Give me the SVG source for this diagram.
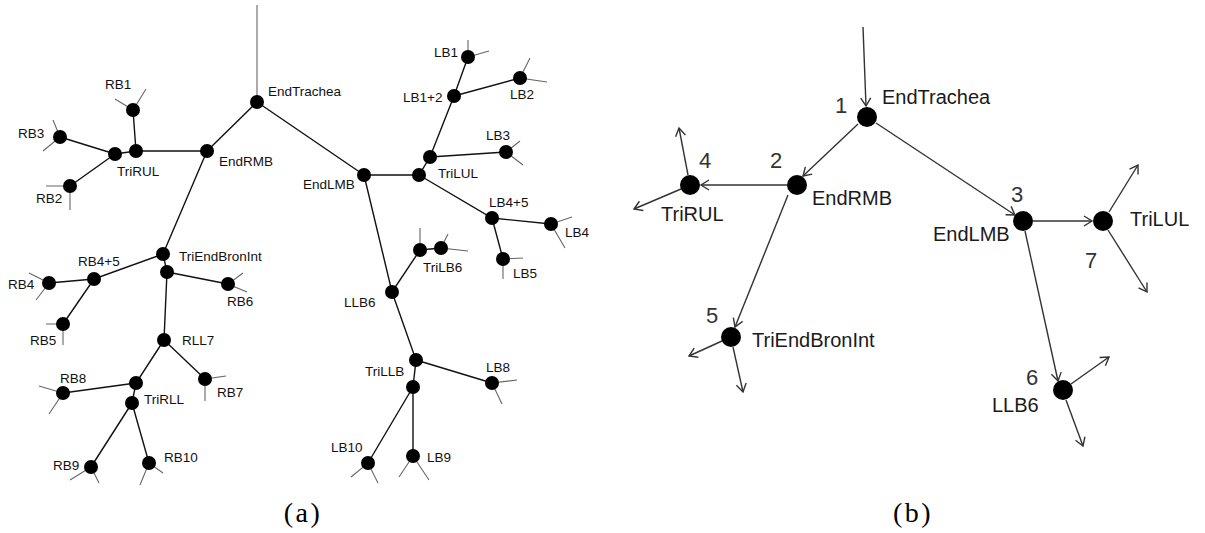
<svg xmlns="http://www.w3.org/2000/svg" width="1205" height="533" viewBox="0 0 1205 533">
<style>
.e{stroke:#111;stroke-width:1.4;fill:none}
.t{stroke:#666;stroke-width:1.1;fill:none}
.n{fill:#000}
.la{font-family:"Liberation Sans",Arial,sans-serif;font-size:13.5px;fill:#111}
.lb{font-family:"Liberation Sans",Arial,sans-serif;font-size:20px;fill:#1a1a1a}
.num{font-family:"Liberation Sans",Arial,sans-serif;font-size:22px;fill:#333}
.a{stroke:#333;stroke-width:1.4;fill:none;marker-end:url(#ah)}
.cap{font-family:"Liberation Serif","Times New Roman",serif;font-size:28px;fill:#000;letter-spacing:2.5px}
</style>
<defs>
<marker id="ah" markerUnits="userSpaceOnUse" markerWidth="20" markerHeight="20" viewBox="-10 -10 20 20" refX="0" refY="0" orient="auto">
<path d="M-8,-5 L0,0 L-8,5" stroke="#333" stroke-width="1.4" fill="none"/>
</marker>
</defs>
<rect width="1205" height="533" fill="#fff"/>

<!-- Panel (a) connectors -->
<g id="connectors-a">
<line class="t" x1="257" y1="5" x2="257" y2="102"/>
<path class="e" d="M257,102 L207,151 M257,102 L364,175 M207,151 L136,151 L115,154 M136,151 L133,110 M115,154 L60,137 M115,154 L70,186 M207,151 L163,254 L167,272 M163,254 L94,279 L49,283 M94,279 L63,324 M167,272 L228,284 M167,272 L164,340 L205,379 M164,340 L136,383 L132,403 M136,383 L63,393 M132,403 L91,467 M132,403 L149,463 M364,175 L419,175 L430,157 L454,96 L468,57 M454,96 L520,78 M430,157 L506,152 M419,175 L492,218 L551,224 M492,218 L503,259 M364,175 L392,292 L420,250 L441,248 M392,292 L416,360 L413,387 M416,360 L492,383 M413,387 L368,463 M413,387 L413,456"/>
<path class="t" d="M115,99 L133,110 L146,89 M53,120 L60,137 L43,151 M46,186 L70,186 L70,210 M29,273 L49,283 L36,300 M46,324 L63,324 L63,345 M243,273 L228,284 L247,292 M226,376 L205,379 L205,401 M39,386 L63,393 L49,414 M70,480 L91,467 L99,483 M163,473 L149,463 L140,485 M468,40 L468,57 L489,51 M530,58 L520,78 L547,82 M520,141 L506,152 L523,165 M572,217 L551,224 L565,248 M523,258 L503,259 L503,279 M420,228 L420,250 M448,234 L441,248 L468,251 M517,380 L492,383 L502,404 M351,477 L368,463 L378,483 M399,477 L413,456 L429,480"/>
</g>

<!-- Panel (a) nodes -->
<g id="EndTrachea-a"><circle class="n" cx="257" cy="102" r="7"/><text class="la" x="268" y="96">EndTrachea</text></g>
<g id="EndRMB-a"><circle class="n" cx="207" cy="151" r="7"/><text class="la" x="219" y="166">EndRMB</text></g>
<g id="TriRUL-a"><circle class="n" cx="136" cy="151" r="7"/><circle class="n" cx="115" cy="154" r="7"/><text class="la" x="117" y="176">TriRUL</text></g>
<g id="RB1"><circle class="n" cx="133" cy="110" r="7"/><text class="la" x="105" y="89">RB1</text></g>
<g id="RB3"><circle class="n" cx="60" cy="137" r="7"/><text class="la" x="18" y="138">RB3</text></g>
<g id="RB2"><circle class="n" cx="70" cy="186" r="7"/><text class="la" x="36" y="203">RB2</text></g>
<g id="TriEndBronInt-a"><circle class="n" cx="163" cy="254" r="7"/><circle class="n" cx="167" cy="272" r="7"/><text class="la" x="179" y="261">TriEndBronInt</text></g>
<g id="RB4plus5"><circle class="n" cx="94" cy="279" r="7"/><text class="la" x="78" y="266">RB4+5</text></g>
<g id="RB4"><circle class="n" cx="49" cy="283" r="7"/><text class="la" x="8" y="289">RB4</text></g>
<g id="RB5"><circle class="n" cx="63" cy="324" r="7"/><text class="la" x="30" y="345">RB5</text></g>
<g id="RB6"><circle class="n" cx="228" cy="284" r="7"/><text class="la" x="227" y="306">RB6</text></g>
<g id="RLL7"><circle class="n" cx="164" cy="340" r="7"/><text class="la" x="182" y="345">RLL7</text></g>
<g id="RB7"><circle class="n" cx="205" cy="379" r="7"/><text class="la" x="217" y="397">RB7</text></g>
<g id="TriRLL"><circle class="n" cx="136" cy="383" r="7"/><circle class="n" cx="132" cy="403" r="7"/><text class="la" x="144" y="404">TriRLL</text></g>
<g id="RB8"><circle class="n" cx="63" cy="393" r="7"/><text class="la" x="60" y="383">RB8</text></g>
<g id="RB9"><circle class="n" cx="91" cy="467" r="7"/><text class="la" x="53" y="470">RB9</text></g>
<g id="RB10"><circle class="n" cx="149" cy="463" r="7"/><text class="la" x="164" y="462">RB10</text></g>
<g id="EndLMB-a"><circle class="n" cx="364" cy="175" r="7"/><text class="la" x="303" y="189">EndLMB</text></g>
<g id="TriLUL-a"><circle class="n" cx="419" cy="175" r="7"/><circle class="n" cx="430" cy="157" r="7"/><text class="la" x="438" y="178">TriLUL</text></g>
<g id="LB1plus2"><circle class="n" cx="454" cy="96" r="7"/><text class="la" x="403" y="102">LB1+2</text></g>
<g id="LB1"><circle class="n" cx="468" cy="57" r="7"/><text class="la" x="434" y="57">LB1</text></g>
<g id="LB2"><circle class="n" cx="520" cy="78" r="7"/><text class="la" x="510" y="99">LB2</text></g>
<g id="LB3"><circle class="n" cx="506" cy="152" r="7"/><text class="la" x="486" y="140">LB3</text></g>
<g id="LB4plus5"><circle class="n" cx="492" cy="218" r="7"/><text class="la" x="489" y="207">LB4+5</text></g>
<g id="LB4"><circle class="n" cx="551" cy="224" r="7"/><text class="la" x="565" y="237">LB4</text></g>
<g id="LB5"><circle class="n" cx="503" cy="259" r="7"/><text class="la" x="513" y="278">LB5</text></g>
<g id="TriLB6"><circle class="n" cx="420" cy="250" r="7"/><circle class="n" cx="441" cy="248" r="7"/><text class="la" x="423" y="272">TriLB6</text></g>
<g id="LLB6-a"><circle class="n" cx="392" cy="292" r="7"/><text class="la" x="344" y="307">LLB6</text></g>
<g id="TriLLB"><circle class="n" cx="416" cy="360" r="7"/><circle class="n" cx="413" cy="387" r="7"/><text class="la" x="365" y="376">TriLLB</text></g>
<g id="LB8"><circle class="n" cx="492" cy="383" r="7"/><text class="la" x="486" y="372">LB8</text></g>
<g id="LB10"><circle class="n" cx="368" cy="463" r="7"/><text class="la" x="331" y="452">LB10</text></g>
<g id="LB9"><circle class="n" cx="413" cy="456" r="7"/><text class="la" x="427" y="462">LB9</text></g>

<text class="cap" x="303" y="522" text-anchor="middle">(a)</text>

<!-- Panel (b) connectors -->
<g id="connectors-b">
<line class="a" x1="863" y1="27" x2="866" y2="106"/>
<line class="a" x1="858" y1="124" x2="803" y2="176"/>
<line class="a" x1="876" y1="123" x2="1015" y2="215"/>
<line class="a" x1="787" y1="185" x2="701" y2="185"/>
<line class="a" x1="788" y1="195" x2="735" y2="327"/>
<line class="a" x1="1033" y1="221" x2="1092" y2="221"/>
<line class="a" x1="1025" y1="231" x2="1058" y2="381"/>
<line class="a" x1="688" y1="175" x2="679" y2="128"/>
<line class="a" x1="681" y1="189" x2="634" y2="209"/>
<line class="a" x1="722" y1="341" x2="689" y2="356"/>
<line class="a" x1="733" y1="347" x2="743" y2="392"/>
<line class="a" x1="1109" y1="212" x2="1138" y2="165"/>
<line class="a" x1="1108" y1="230" x2="1147" y2="292"/>
<line class="a" x1="1071" y1="384" x2="1109" y2="357"/>
<line class="a" x1="1066" y1="400" x2="1083" y2="446"/>
</g>

<!-- Panel (b) nodes -->
<g id="EndTrachea-b"><circle class="n" cx="867" cy="117" r="10"/><text class="num" x="835" y="113">1</text><text class="lb" x="882" y="104">EndTrachea</text></g>
<g id="EndRMB-b"><circle class="n" cx="797" cy="185" r="10"/><text class="num" x="770" y="168">2</text><text class="lb" x="812" y="205">EndRMB</text></g>
<g id="TriRUL-b"><circle class="n" cx="690" cy="185" r="10"/><text class="num" x="699" y="168">4</text><text class="lb" x="661" y="221">TriRUL</text></g>
<g id="TriEndBronInt-b"><circle class="n" cx="731" cy="337" r="10"/><text class="num" x="706" y="323">5</text><text class="lb" x="752" y="347">TriEndBronInt</text></g>
<g id="EndLMB-b"><circle class="n" cx="1023" cy="221" r="10"/><text class="num" x="1011" y="202">3</text><text class="lb" x="933" y="241">EndLMB</text></g>
<g id="TriLUL-b"><circle class="n" cx="1103" cy="221" r="10"/><text class="num" x="1085" y="268">7</text><text class="lb" x="1130" y="226">TriLUL</text></g>
<g id="LLB6-b"><circle class="n" cx="1063" cy="390" r="10"/><text class="num" x="1026" y="385">6</text><text class="lb" x="992" y="412">LLB6</text></g>

<text class="cap" x="913" y="522" text-anchor="middle">(b)</text>
</svg>
